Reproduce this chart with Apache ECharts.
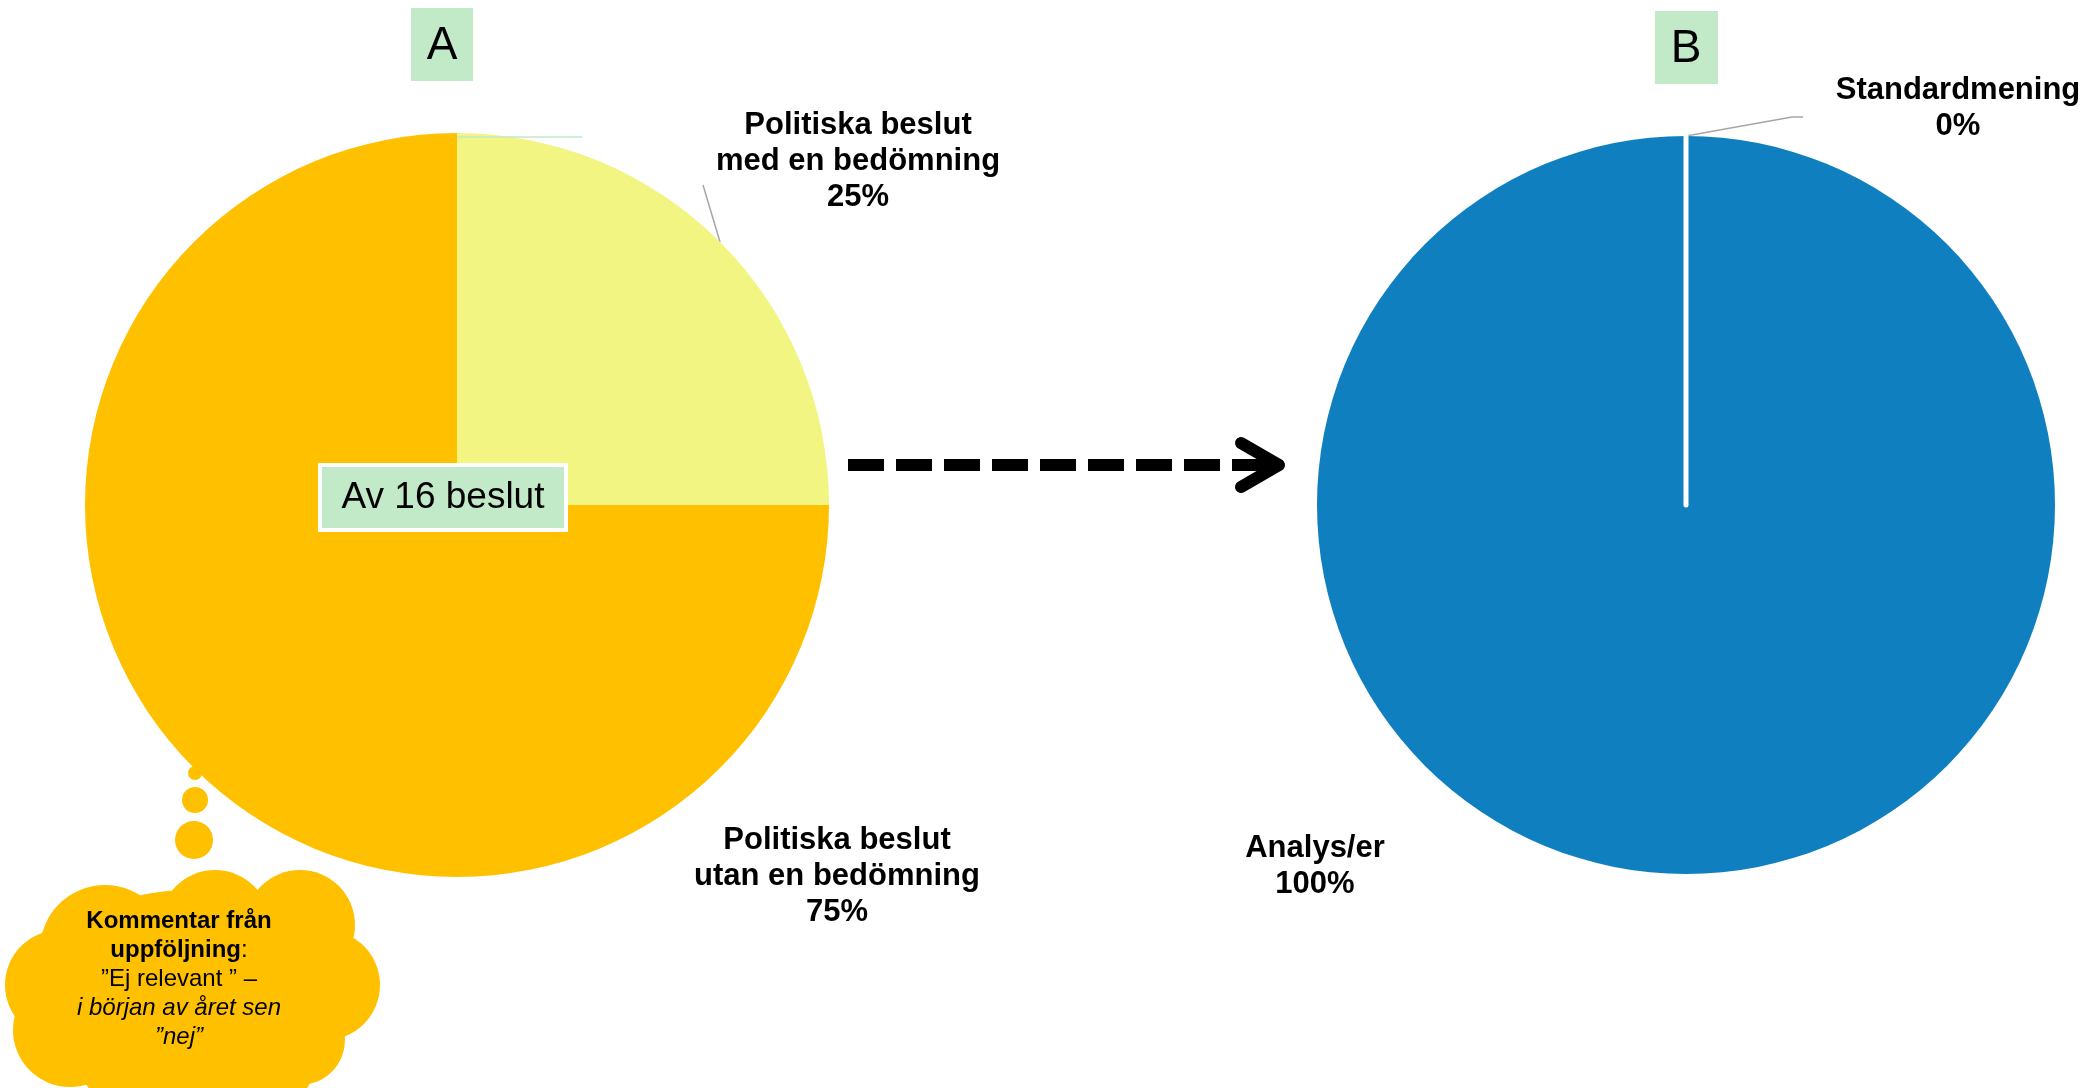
<!DOCTYPE html>
<html>
<head>
<meta charset="utf-8">
<title>Politiska beslut</title>
<script src="https://cdn.jsdelivr.net/npm/echarts@6/dist/echarts.min.js"></script>
<style>
  html, body { margin: 0; padding: 0; background: #fff; }
  #chart { width: 2099px; height: 1088px; }
</style>
</head>
<body>
<div id="chart"></div>
<script>
// data (andel av 16 beslut)
const pieANames = ['Politiska beslut\nmed en bedömning', 'Politiska beslut\nutan en bedömning']
const pieAValues = [25, 75]
const pieAColors = ['#F2F581', '#FFC000']

const pieBNames = ['Analys/er', 'Standardmening']
const pieBValues = [100, 0]
const pieBColors = ['#0F7FBF', '#0F7FBF']

const FONT = '"Liberation Sans", Arial, sans-serif'
const GREEN = '#C2E9C8'

// where the labels sit (text centres) and where their lines bend
const labelSpotA = [[858, 161], [837, 876]]
const labelSpotB = [[1315, 866], [1958, 108]]
const lineBendA = { 0: [[703, 185], [703, 185]] }
const lineBendB = { 1: [[1792, 117], [1803, 117]] }

function pctLabel(p) {
  return p.name + '\n' + Math.round(p.percent) + '%'
}

function makeLayout(spots, bends) {
  return function (params) {
    const s = spots[params.dataIndex]
    const out = { x: s[0], y: s[1], align: 'center', verticalAlign: 'middle' }
    const b = bends[params.dataIndex]
    if (b && params.labelLinePoints) {
      out.labelLinePoints = [params.labelLinePoints[0], b[0], b[1]]
    }
    return out
  }
}

const labelStyle = {
  show: true,
  position: 'outside',
  formatter: pctLabel,
  fontFamily: FONT,
  fontWeight: 'bold',
  fontSize: 31,
  lineHeight: 36,
  color: '#000',
  align: 'center',
  overflow: 'none',
  width: 400
}

// thought cloud lobes
const cloudLobes = [
  [105, 950, 65], [215, 925, 55], [300, 925, 55], [325, 985, 55], [300, 1040, 45],
  [60, 985, 55], [70, 1030, 57], [130, 1060, 50], [200, 1070, 60], [260, 1060, 55]
]
const bubbles = [[195, 773, 7], [195, 800, 13], [194, 840, 19]]

const chart = echarts.init(document.getElementById('chart'))

const graphics = []
cloudLobes.concat(bubbles).forEach(c => {
  graphics.push({ type: 'circle', shape: { cx: c[0], cy: c[1], r: c[2] }, style: { fill: '#FFC000' }, z: 5 })
})
graphics.push({ type: 'ellipse', shape: { cx: 190, cy: 985, rx: 150, ry: 95 }, style: { fill: '#FFC000' }, z: 5 })
graphics.push({
  type: 'text', x: 179, y: 979, z: 10,
  style: {
    text: '{b|Kommentar från}\n{b|uppföljning}{n|:}\n{n|”Ej relevant ” –}\n{i|i början av året sen}\n{i|”nej”}',
    align: 'center', verticalAlign: 'middle',
    rich: {
      b: { fontFamily: FONT, fontSize: 24, fontWeight: 'bold', lineHeight: 29, fill: '#000' },
      n: { fontFamily: FONT, fontSize: 24, lineHeight: 29, fill: '#000' },
      i: { fontFamily: FONT, fontSize: 24, fontStyle: 'italic', lineHeight: 29, fill: '#000' }
    }
  }
})

// A / B tags
graphics.push({ type: 'rect', shape: { x: 411, y: 8, width: 62, height: 73 }, style: { fill: GREEN }, z: 10 })
graphics.push({ type: 'text', x: 442, y: 46, z: 11, style: { text: 'A', font: '46px ' + FONT, fill: '#000', align: 'center', verticalAlign: 'middle' } })
graphics.push({ type: 'rect', shape: { x: 1655, y: 11, width: 63, height: 73 }, style: { fill: GREEN }, z: 10 })
graphics.push({ type: 'text', x: 1686, y: 49, z: 11, style: { text: 'B', font: '46px ' + FONT, fill: '#000', align: 'center', verticalAlign: 'middle' } })

// "Av 16 beslut" box
graphics.push({ type: 'rect', shape: { x: 320, y: 465, width: 246, height: 65 }, style: { fill: GREEN, stroke: '#fff', lineWidth: 4 }, z: 10 })
graphics.push({ type: 'text', x: 443, y: 498, z: 11, style: { text: 'Av 16 beslut', font: '37px ' + FONT, fill: '#000', align: 'center', verticalAlign: 'middle' } })

// faint line at the top of pie A
graphics.push({ type: 'line', shape: { x1: 457, y1: 137, x2: 582, y2: 137 }, style: { stroke: GREEN, lineWidth: 1.5 }, z: 10 })

// dashed arrow A -> B
graphics.push({ type: 'line', shape: { x1: 848, y1: 465, x2: 1276, y2: 465 }, style: { stroke: '#000', lineWidth: 12, lineDash: [36, 12], lineCap: 'butt' }, z: 10 })
graphics.push({ type: 'polyline', shape: { points: [[1241, 443], [1279, 465], [1241, 487]] }, style: { stroke: '#000', lineWidth: 12, lineCap: 'round', lineJoin: 'round', fill: null }, z: 10 })

const option = {
  backgroundColor: '#fff',
  animation: false,
  graphic: graphics,
  series: [
    {
      type: 'pie',
      center: [457, 505],
      radius: [0, 372],
      startAngle: 90,
      clockwise: true,
      silent: true,
      data: pieANames.map((n, i) => ({
        name: n,
        value: pieAValues[i],
        itemStyle: { color: pieAColors[i] },
        labelLine: { show: i === 0 }
      })),
      label: labelStyle,
      labelLine: { lineStyle: { color: '#A6A6A6', width: 1.5 } },
      labelLayout: makeLayout(labelSpotA, lineBendA)
    },
    {
      type: 'pie',
      center: [1686, 505],
      radius: [0, 369],
      startAngle: 90,
      clockwise: true,
      silent: true,
      data: pieBNames.map((n, i) => ({
        name: n,
        value: pieBValues[i],
        itemStyle: pieBValues[i] === 0
          ? { color: pieBColors[i], borderColor: '#fff', borderWidth: 5 }
          : { color: pieBColors[i] },
        labelLine: { show: i === 1 }
      })),
      label: labelStyle,
      labelLine: { lineStyle: { color: '#A6A6A6', width: 1.5 } },
      labelLayout: makeLayout(labelSpotB, lineBendB)
    }
  ]
}

chart.setOption(option)
</script>
</body>
</html>
